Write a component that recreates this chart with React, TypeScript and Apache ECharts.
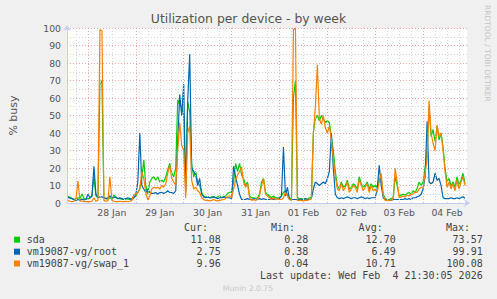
import React, { useEffect, useRef } from "react";
import * as echarts from "echarts";

// x values are hours relative to 28 Jan 00:00, one point per hour
const startHour = -10;
const dayLabels = ["28 Jan", "29 Jan", "30 Jan", "31 Jan", "01 Feb", "02 Feb", "03 Feb", "04 Feb"];
const dayLabelHours = [12, 36, 60, 84, 108, 132, 156, 180];
const dayBoundaryHours = [0, 24, 48, 72, 96, 120, 144, 168];
const sixHourHours = [-6, 6, 12, 18, 30, 36, 42, 54, 60, 66, 78, 84, 90, 102, 108, 114, 126, 132, 138, 150, 156, 162, 174, 180, 186];

const seriesNames = ["sda", "vm19087-vg/root", "vm19087-vg/swap_1"];
const seriesColors = ["#00cc00", "#0066b3", "#ff8000"];

const sdaValues = [
  3.8, 3.2, 2.6, 2.2, 2.4, 3.0, 2.5, 5.2, 2.6, 2.2,
  2.5, 2.8, 4, 15, 4, 3, 68, 70, 3, 2.5, 2.2, 3, 2.5, 4.6, 3, 2.5, 2.5, 2.2, 2.0, 2.5, 2.2, 2.0, 2.5, 3,
  4, 6, 8, 14, 24.6, 10, 5, 12, 14, 15, 13, 15, 12, 13, 12, 15, 19, 22.7, 17, 15, 20, 59, 56, 55,
  50, 8, 58, 52, 22, 15, 18, 12, 10, 6, 4, 3.5, 3.5, 3, 3.5, 3.5, 3, 3.5, 4, 3, 3.5, 4, 5.5, 6,
  6.5, 12, 22.7, 18, 22.7, 16, 14, 10, 12, 4, 3, 3, 2.5, 3, 5, 12, 14, 6, 5, 4, 3, 4, 3, 3,
  3, 4, 6, 7, 5, 3, 2, 60, 70, 3, 2.5, 2.5, 2, 2.5, 2, 3, 3, 40.8, 48, 50, 47, 50, 48, 46,
  47, 46, 38, 30, 18, 10, 8, 12, 9, 10, 13, 8, 9, 11, 10, 8, 15, 11, 9, 10, 12, 8, 11, 9,
  10, 9, 14, 14, 5, 2.5, 2, 2, 2.5, 3, 15, 10, 4, 4.5, 5, 4.5, 5.5, 6, 5, 7, 6, 8.5, 12, 10,
  12, 20, 30, 55, 38, 42, 35, 44, 36, 40, 32, 20, 12, 14, 10, 12, 9, 15, 10, 13, 17, 11.08,
];

const rootValues = [
  3.2, 2.8, 2.5, 1.8, 1.5, 2.0, 1.6, 2.2, 1.8, 2.0,
  5, 3, 4, 21, 5, 3, 3.5, 3.5, 3, 2.5, 3, 4, 3, 3, 3.5, 2.5, 3, 2.5, 2, 2.5, 3, 2.5, 2, 3,
  5, 12, 40, 10, 8, 6, 8, 6, 5.5, 5.5, 6, 5, 6, 6, 5.5, 6, 7, 6, 6, 5.5, 7, 35, 62, 50,
  68, 6, 58, 85, 20, 18, 16, 10, 14, 5, 3.5, 3, 3.5, 3, 3, 3.5, 3, 2.5, 3, 3, 3.5, 3, 3, 3,
  2.5, 21, 15, 10, 5, 2, 2, 2, 2.5, 2, 2, 2.5, 2, 2, 2.5, 2, 2.5, 2, 2, 2, 2.5, 2, 2, 2.5,
  2.5, 4, 32, 4, 9, 2, 2, 2, 2, 2, 2, 2, 2, 2.5, 2, 2, 2.5, 8, 12, 11, 10, 11, 12, 11,
  14, 18, 39.8, 20, 5, 3, 2.5, 3, 2.5, 3, 3.5, 3, 2.5, 3, 3, 2.5, 3, 3.5, 3, 2.5, 3, 2.5, 3, 3,
  3, 8, 21.5, 10, 3, 2, 1.5, 1.5, 1.5, 2, 2, 2, 2, 2, 2, 2.5, 2, 2.5, 2, 3, 3, 3.5, 4, 5,
  8, 15, 46.5, 12, 11, 12, 17, 13, 14, 10, 3, 2.5, 2.5, 2.5, 3, 2.5, 2.5, 3, 2.5, 3, 3.5, 2.75,
];

const swapValues = [
  1.5, 1.0, 0.8, 1.0, 2.5, 12.5, 1.2, 1.0, 0.8, 0.8,
  0.8, 0.8, 1, 3, 1, 1.5, 99, 98.5, 1.5, 1, 1.2, 15, 1.5, 1, 0.8, 0.8, 1, 0.8, 0.8, 1, 0.8, 1, 1.5, 5,
  5, 6, 8, 17.9, 14, 6, 1.7, 4, 8, 9, 8.5, 9, 8, 10, 9, 11, 17, 21.7, 14, 12, 10, 30, 46, 33,
  30, 3, 40, 44, 13, 8, 9, 7, 6, 3, 2, 1.5, 1.5, 1.2, 1.5, 2, 1.5, 1.2, 1.5, 1.8, 2, 2.5, 4, 4,
  3, 8, 13, 16, 18, 20.6, 12, 9, 11, 3, 1.5, 2, 1.5, 2, 4, 10, 14, 5, 4, 3, 2, 3, 2, 2.5,
  2, 2, 3, 6, 4, 2, 1.5, 99, 100, 1.5, 1.5, 1.5, 1.2, 1.5, 1.5, 2, 2.5, 40, 55, 79, 48, 45, 50, 43,
  40, 44, 36, 25, 15, 8, 7, 11.5, 7, 9, 12, 6, 8, 10, 9, 6, 13.5, 10, 7, 9, 11, 6, 10, 7,
  8, 6, 12, 17, 4, 1.5, 1.5, 1.5, 1.5, 2.5, 19.8, 12, 3, 3.5, 4, 3.5, 4.5, 4, 5, 5, 6.5, 6, 8, 9,
  9, 17, 25, 58.5, 40, 34, 30, 44.6, 38, 40, 30, 18, 9, 12, 8, 11, 7, 13, 8, 12, 15, 9.96,
];

const statHeaders = ["Cur:", "Min:", "Avg:", "Max:"];
const curValues = ["11.08", "2.75", "9.96"];
const minValues = ["0.28", "0.38", "0.04"];
const avgValues = ["12.70", "6.49", "10.71"];
const maxValues = ["73.57", "99.91", "100.08"];
const lastUpdate = "Last update: Wed Feb  4 21:30:05 2026";

export default function App() {
  const ref = useRef<HTMLDivElement>(null);

  useEffect(() => {
    if (!ref.current) return;
    const chart = echarts.init(ref.current, undefined, { renderer: "svg" });

    const allValues = [sdaValues, rootValues, swapValues];
    const mono = "DejaVu Sans Mono";
    const sans = "DejaVu Sans";
    const textColor = "#444";

    const headerRight = [208, 295, 382.7, 470];
    const valueRight = [220.7, 308.3, 395.7, 482.7];
    const rowY = [239.7, 251.7, 263.5];

    const graphic: any[] = [];
    statHeaders.forEach((h, i) => {
      graphic.push({
        type: "text", x: headerRight[i], y: 227.7, silent: true,
        style: { text: h, fontFamily: mono, fontSize: 10, fill: textColor, textAlign: "right", textVerticalAlign: "middle", align: "right", verticalAlign: "middle" },
      });
    });
    const stats = [curValues, minValues, avgValues, maxValues];
    seriesNames.forEach((name, r) => {
      graphic.push({
        type: "rect", shape: { x: 14, y: rowY[r] - 3, width: 6, height: 6 }, silent: true,
        style: { fill: seriesColors[r] },
      });
      graphic.push({
        type: "text", x: 26.7, y: rowY[r], silent: true,
        style: { text: name, fontFamily: mono, fontSize: 10, fill: textColor, textAlign: "left", textVerticalAlign: "middle", align: "left", verticalAlign: "middle" },
      });
      stats.forEach((col, c) => {
        graphic.push({
          type: "text", x: valueRight[c], y: rowY[r], silent: true,
          style: { text: col[r], fontFamily: mono, fontSize: 10, fill: textColor, textAlign: "right", textVerticalAlign: "middle", align: "right", verticalAlign: "middle" },
        });
      });
    });
    graphic.push({
      type: "text", x: 482.7, y: 275.7, silent: true,
      style: { text: lastUpdate, fontFamily: mono, fontSize: 10, fill: textColor, textAlign: "right", textVerticalAlign: "middle", align: "right", verticalAlign: "middle" },
    });
    graphic.push({
      type: "text", x: 248, y: 288.3, silent: true,
      style: { text: "Munin 2.0.75", fontFamily: sans, fontSize: 7.7, fill: "#c8c8c8", textAlign: "center", textVerticalAlign: "middle", align: "center", verticalAlign: "middle" },
    });
    graphic.push({
      type: "text", x: 487, y: 5, rotation: -Math.PI / 2, silent: true,
      style: { text: "RRDTOOL / TOBI OETIKER", fontFamily: sans, fontSize: 7.5, fill: "#c4c4c4", textAlign: "left", textVerticalAlign: "middle", align: "left", verticalAlign: "middle" },
    });

    const axisColor = "#c8ccf4";
    const majorGrid = { color: "#f2a8a8", width: 1, type: [1, 2] as any };
    const minorGrid = { color: "#d6d6d6", width: 1, type: [1, 2] as any };

    const gridSeries = (hours: number[], style: any, z: number) => ({
      type: "line",
      xAxisIndex: 0,
      silent: true,
      showSymbol: false,
      symbol: "none",
      z,
      lineStyle: { opacity: 0 },
      data: [] as any[],
      markLine: {
        silent: true,
        animation: false,
        symbol: ["none", "none"],
        label: { show: false },
        lineStyle: style,
        emphasis: { disabled: true },
        data: hours.map((h) => ({ xAxis: h })),
      },
    });

    chart.setOption({
      animation: false,
      backgroundColor: "#f0f0f0",
      title: {
        text: "Utilization per device - by week",
        left: "center",
        top: 12,
        padding: 0,
        textStyle: { fontFamily: sans, fontSize: 12.4, fontWeight: "normal", color: "#555" },
      },
      grid: { left: 66, right: 30, top: 28, bottom: 96, show: true, backgroundColor: "#ffffff", borderWidth: 0 },
      xAxis: {
        type: "value", min: -10.5, max: 190, position: "bottom",
        axisLine: { show: true, onZero: false, lineStyle: { color: axisColor, width: 1 }, symbol: ["none", "arrow"], symbolSize: [6, 6], symbolOffset: [0, 3] },
        axisTick: { show: false, customValues: dayBoundaryHours },
        axisLabel: {
          customValues: dayLabelHours,
          formatter: (v: number) => { const i = dayLabelHours.indexOf(v); return i >= 0 ? dayLabels[i] : ""; },
          color: "#555", fontSize: 9.3, fontFamily: sans, margin: 5,
        },
        splitLine: { show: false },
      },
      yAxis: {
        type: "value", min: 0, max: 100, interval: 10,
        name: "% busy", nameLocation: "middle", nameGap: 48, nameRotate: 90,
        nameTextStyle: { color: "#555", fontSize: 11, fontFamily: sans },
        axisLine: { show: true, onZero: false, lineStyle: { color: axisColor, width: 1 }, symbol: ["none", "arrow"], symbolSize: [6, 6], symbolOffset: [0, 3] },
        axisTick: { show: false },
        axisLabel: { color: "#555", fontSize: 9.3, fontFamily: sans, margin: 6 },
        splitLine: { show: true, lineStyle: majorGrid },
        minorTick: { show: false, splitNumber: 2 },
        minorSplitLine: { show: true, lineStyle: minorGrid },
      },
      graphic,
      series: [
        gridSeries(sixHourHours, minorGrid, 1),
        gridSeries(dayBoundaryHours, majorGrid, 2),
        ...seriesNames.map((name, s) => ({
          name,
          type: "line",
          xAxisIndex: 0,
          showSymbol: false,
          symbol: "none",
          z: 3 + s,
          lineStyle: { color: seriesColors[s], width: 1.2 },
          itemStyle: { color: seriesColors[s] },
          data: allValues[s].map((v, i) => [startHour + i, v]),
        })),
      ],
    });

    return () => chart.dispose();
  }, []);

  return (
    <div
      ref={ref}
      style={{ position: "fixed", left: 0, top: 0, width: 497, height: 299, background: "#f0f0f0" }}
    />
  );
}
